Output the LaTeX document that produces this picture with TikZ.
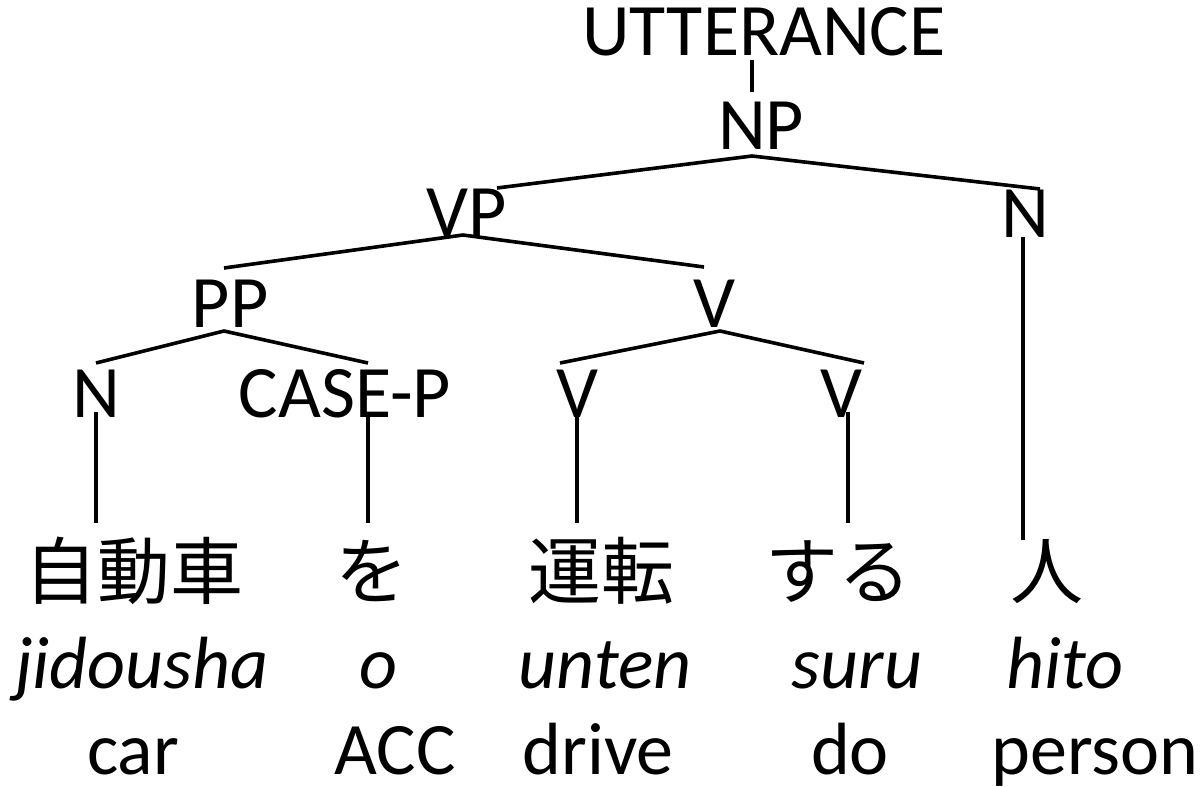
\documentclass[tikz,border=0pt]{standalone}
\usepackage{fontspec}
\setmainfont{Carlito}
\newfontfamily\jfont{Noto Sans CJK JP}
\tikzset{
  lbl/.style={anchor=base, inner sep=0pt, font=\fontsize{74}{80}\selectfont},
  jlbl/.style={anchor=base, inner sep=0pt, font=\fontsize{73}{80}\selectfont\jfont},
  ilbl/.style={anchor=base, inner sep=0pt, font=\fontsize{74}{80}\selectfont\itshape},
  branch/.style={line width=3.6pt, line cap=butt},
}
\begin{document}
\begin{tikzpicture}[x=1pt, y=-1pt]
\useasboundingbox (0,0) rectangle (1203,787);
% tree labels
\node[lbl] (utt) at (764,55) {UTTERANCE};
\node[lbl] (np) at (761,149) {NP};
\node[lbl] (vp) at (467,236) {VP};
\node[lbl] (nr) at (1025,237) {N};
\node[lbl] (pp) at (230,327) {PP};
\node[lbl] (vm) at (714,327) {V};
\node[lbl] (nl) at (96,417) {N};
\node[lbl] (casep) at (345,417) {CASE-P};
\node[lbl] (vl) at (577,417) {V};
\node[lbl] (vr) at (841,417) {V};
% words
\node[jlbl] (w1) at (134,598) {自動車};
\node[jlbl] (w2) at (372,598) {を};
\node[jlbl] (w3) at (601,598) {運転};
\node[jlbl] (w4) at (838,598) {する};
\node[jlbl] (w5) at (1047,598) {人};
% romanization
\node[ilbl] (r1) at (142,688) {jidousha};
\node[ilbl] (r2) at (378,688) {o};
\node[ilbl] (r3) at (605,688) {unten};
\node[ilbl] (r4) at (857,688) {suru};
\node[ilbl] (r5) at (1065,688) {hito};
% glosses
\node[lbl] (g1) at (133,774) {car};
\node[lbl] (g2) at (395,774) {ACC};
\node[lbl] (g3) at (598,774) {drive};
\node[lbl] (g4) at (850,774) {do};
\node[lbl] (g5) at (1095,774) {person};
% branches
\draw[branch] ([shift={(-12,5)}]utt.base) -- ([shift={(-9,-57)}]np.base);
\draw[branch] ([shift={(30,-48)}]vp.base) -- ([shift={(-9,7)}]np.base) -- ([shift={(15,-48)}]nr.base);
\draw[branch] ([shift={(-6,-59)}]pp.base) -- ([shift={(-4,-1)}]vp.base) -- ([shift={(-10,-60)}]vm.base);
\draw[branch] ([shift={(0,-54)}]nl.base) -- ([shift={(-6,4)}]pp.base) -- ([shift={(23,-54)}]casep.base);
\draw[branch] ([shift={(-17,-54)}]vl.base) -- ([shift={(6,4)}]vm.base) -- ([shift={(23,-54)}]vr.base);
\draw[branch] ([shift={(0,-5)}]nl.base) -- ([shift={(-38,-75)}]w1.base);
\draw[branch] ([shift={(23,-2)}]casep.base) -- ([shift={(-4,-75)}]w2.base);
\draw[branch] ([shift={(0,0)}]vl.base) -- ([shift={(-24,-75)}]w3.base);
\draw[branch] ([shift={(7,-5)}]vr.base) -- ([shift={(10,-75)}]w4.base);
\draw[branch] ([shift={(-2,0)}]nr.base) -- ([shift={(-24,-58)}]w5.base);
\end{tikzpicture}
\end{document}
